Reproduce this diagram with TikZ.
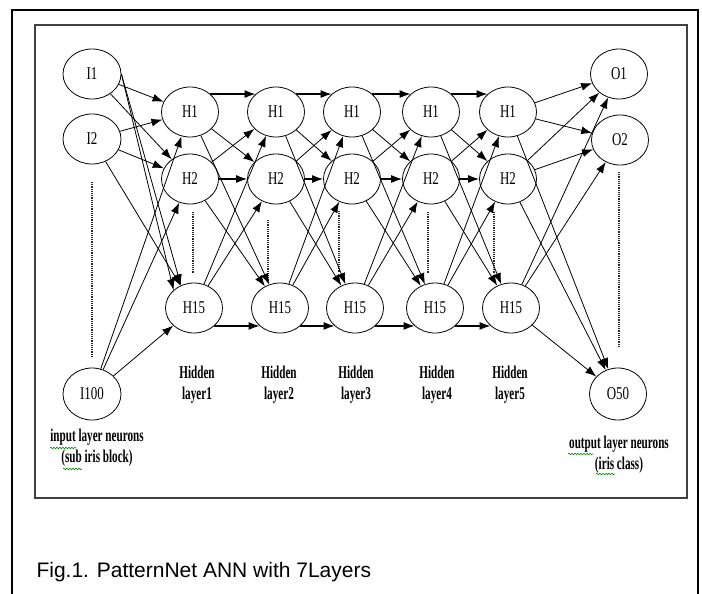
\documentclass[tikz,border=0pt]{standalone}
\usepackage{fontspec}
\setmainfont{Liberation Serif}
\newfontfamily\capfont{Liberation Sans}
\newfontfamily\netfont[FakeStretch=0.72]{Liberation Serif}
\newfontfamily\labfont[FakeStretch=0.62]{Liberation Serif}
\usetikzlibrary{shapes.geometric,arrows.meta,decorations.pathmorphing}

\begin{document}
\begin{tikzpicture}[x=1pt,y=-1pt,
  neuron/.style={draw,ellipse,line width=0.8pt,minimum width=57pt,minimum height=50pt,inner sep=0pt,
    font=\netfont\fontsize{18}{18}\selectfont},
  link/.style={-{Latex[length=11pt,width=8pt]},line width=0.8pt},
  flat/.style={link,line width=1.2pt},
  gap/.style={densely dotted,line width=1.2pt,black!85},
  layertext/.style={align=center,font=\labfont\bfseries\fontsize{18}{21}\selectfont},
  spell/.style={green!55!black,line width=0.6pt,decorate,
    decoration={snake,amplitude=0.8pt,segment length=3pt}}]

\useasboundingbox (0,0) rectangle (702,594);

% frames
\draw[line width=2pt] (12,594) -- (12,10) -- (698,10) -- (698,594);
\draw[line width=1.3pt,black!75] (35,25) rectangle (687,498);

% input layer
\node[neuron,minimum width=58pt] (i1) at (92,74) {I1};
\node[neuron,minimum width=58pt] (i2) at (92,139) {I2};
\node[neuron,minimum width=58pt,minimum height=52pt] (i100) at (92,394) {I100};
\draw[gap] (92,182) -- (92,358);

% hidden layers
\foreach \l/\x/\xx/\xd/\yd/\xl in {1/190/194/193/212/197, 2/276/280/268/220/279,
    3/352/355/339/211/356, 4/431/435/428/212/437, 5/508/511/494/212/510}{
  \node[neuron] (h\l-1) at (\x,112) {H1};
  \node[neuron] (h\l-2) at (\x,179) {H2};
  \node[neuron] (h\l-15) at (\xx,308) {H15};
  \draw[gap] (\xd,\yd) -- (\xd,\yd+61);
  \node[layertext] (lab\l) at (\xl,385) {Hidden\\layer\l};
}

% output layer
\node[neuron] (o1) at (619,74) {O1};
\node[neuron] (o2) at (620,140) {O2};
\node[neuron,minimum height=52pt] (o50) at (618,394) {O50};
\draw[gap] (619,172) -- (619,348);

% input -> hidden1
\draw[link] (i1) -- (h1-1);
\draw[link] (i1) -- (h1-2);
\draw[link] (i1.east) -- (h1-15.north west);
\draw[link] (i1.east) -- (h1-15.120);
\draw[link] (i2) -- (h1-1);
\draw[link] (i2) -- (h1-2);
\draw[link] (i2) -- (h1-15);
\draw[link] (i100) -- (h1-1);
\draw[link] (i100) -- (h1-2);
\draw[link] (i100) -- (h1-15);

% hidden -> hidden
\foreach \l [count=\m from 2] in {1,...,4}{
  \draw[flat] (h\l-1.north east) -- (h\m-1.north west);
  \draw[flat] (h\l-2) -- (h\m-2);
  \draw[flat] (h\l-15.south east) -- (h\m-15.south west);
  \draw[link] (h\l-1) -- (h\m-2);
  \draw[link] (h\l-1) -- (h\m-15);
  \draw[link] (h\l-2) -- (h\m-1);
  \draw[link] (h\l-2) -- (h\m-15);
  \draw[link] (h\l-15) -- (h\m-1);
  \draw[link] (h\l-15) -- (h\m-2);
}

% hidden5 -> output
\foreach \s in {1,2,15}
  \foreach \t in {o1,o2,o50}
    \draw[link] (h5-\s) -- (\t);

% layer names
\node[layertext] (inlab) at (97,448) {input layer neurons\\(sub iris block)};
\node[layertext] (outlab) at (619,455) {output layer neurons\\(iris class)};
\draw[spell] (50,448) -- (76,448);
\draw[spell] (63,469) -- (82,469);
\draw[spell] (568,454) -- (593,454);
\draw[spell] (596,474) -- (615,474);

\node[anchor=base west,font=\capfont\fontsize{21}{21}\selectfont] (cap) at (33,577)
  {Fig.1. PatternNet ANN with 7Layers};

\end{tikzpicture}
\end{document}
